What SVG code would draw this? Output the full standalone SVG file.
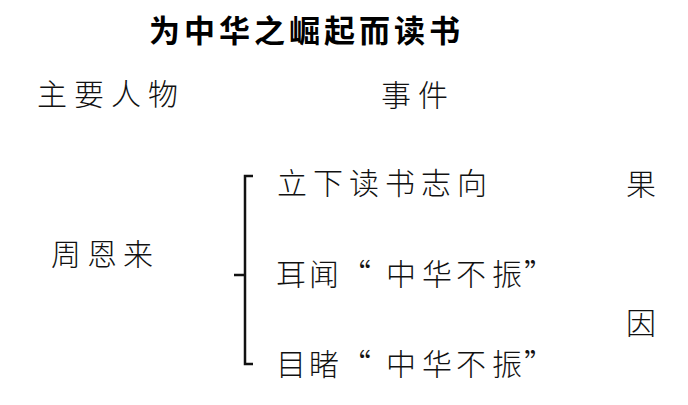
<svg xmlns="http://www.w3.org/2000/svg" width="688" height="405" viewBox="0 0 688 405">
<style>
.t{font-family:"Noto Sans CJK SC","Noto Sans CJK TC",sans-serif;fill:#111;font-size:30px;font-weight:300}
.h{font-family:"Noto Sans CJK SC","Noto Sans CJK TC",sans-serif;fill:#000;font-size:31px;font-weight:700}
.b{fill:none;stroke:#111;stroke-width:2.5}
</style>
<rect width="688" height="405" fill="#fff"/>
<g id="title"><text class="h" x="149" y="42" letter-spacing="4">为中华之崛起而读书</text></g>
<g id="header-person"><text class="t" x="37" y="105" font-size="28" letter-spacing="7">主要人物</text></g>
<g id="header-event"><text class="t" x="381" y="106" font-size="28" letter-spacing="7">事件</text></g>
<g id="person"><text class="t" x="51" y="265" letter-spacing="6">周恩来</text></g>
<g id="event1"><text class="t" x="277" y="194" letter-spacing="6">立下读书志向</text></g>
<g id="event2"><text class="t" x="276,309,341,386,422,456,492,524" y="285">耳闻“中华不振”</text></g>
<g id="event3"><text class="t" x="276,309,341,386,422,456,492,524" y="375">目睹“中华不振”</text></g>
<g id="result"><text class="t" x="626" y="195">果</text></g>
<g id="cause"><text class="t" x="626" y="334">因</text></g>
<g id="connectors">
<path class="b" d="M253,176 H245 V364 H253 M234,275 H245"/>
</g>
</svg>
